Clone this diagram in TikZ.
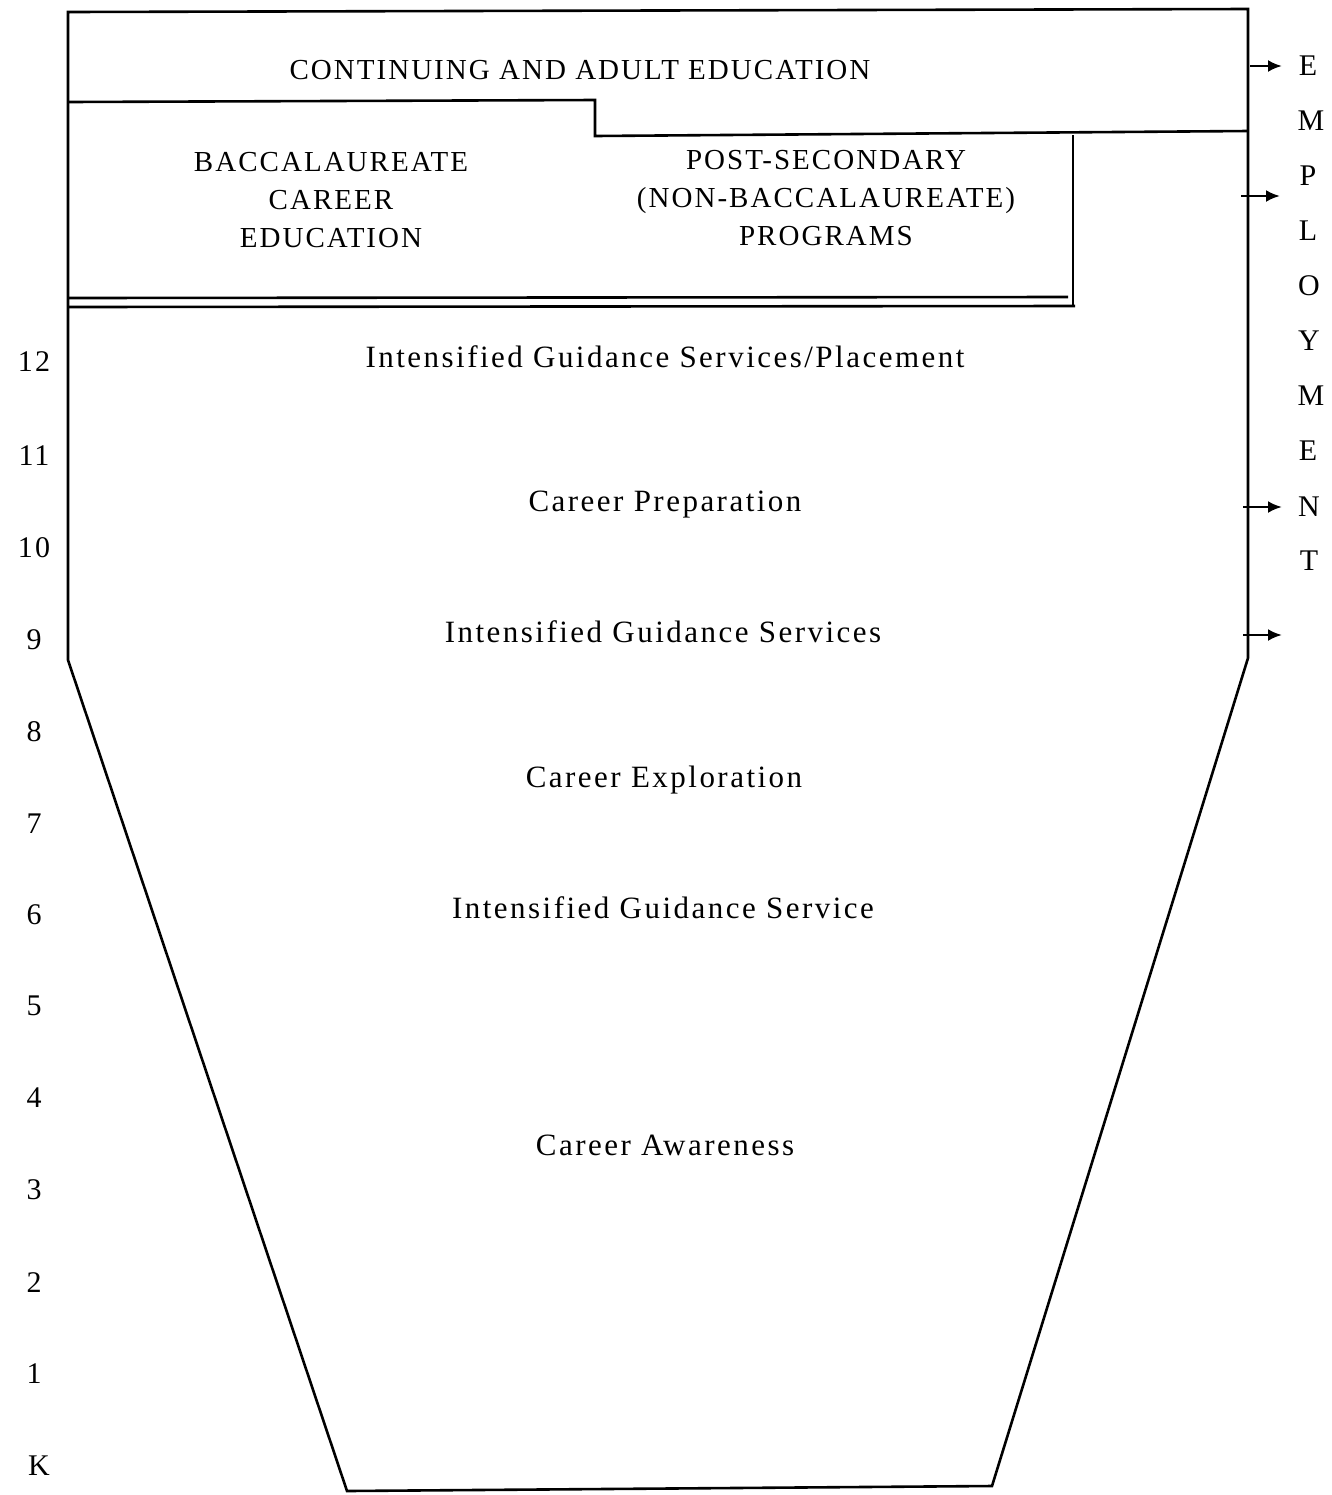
\documentclass[tikz,border=0pt]{standalone}
\usepackage{fontspec}
\setmainfont{Liberation Serif}[LetterSpace=7]
\newfontfamily\widefont{Liberation Serif}[LetterSpace=8]
\usetikzlibrary{arrows.meta}
\begin{document}
\begin{tikzpicture}[x=0.5pt,y=-0.5pt,
  frame/.style={line width=1.3pt,line join=miter},
  lbl/.style={font=\fontsize{14.5}{18}\selectfont,inner sep=0pt,align=center},
  stage/.style={font=\widefont\fontsize{15.5}{18}\selectfont,inner sep=0pt},
  grade/.style={font=\fontsize{15}{18}\selectfont,inner sep=0pt},
  empl/.style={font=\fontsize{15}{18}\selectfont,inner sep=0pt},
  outarrow/.style={line width=1.3pt,-{Latex[length=7pt,width=6pt]}}]
\useasboundingbox (0,0) rectangle (1332,1495);
% outer funnel
\draw[frame] (68,12) -- (1248,9) -- (1248,658) -- (992,1486) -- (347,1491) -- (68,660) -- cycle;
% continuing education lower boundary
\draw[frame] (68,102) -- (595,100) -- (595,136) -- (1248,131);
% post-secondary box right edge
\draw[frame] (1073,135) -- (1073,306);
% double line under the program boxes
\draw[frame] (68,298) -- (1068,297);
\draw[frame] (68,307) -- (1075,306);
% texts
\node[lbl] (cae) at (580,70) {CONTINUING AND ADULT EDUCATION};
\node[lbl] (bac) at (331,200) {BACCALAUREATE\\[1pt]CAREER\\[1pt]EDUCATION};
\node[lbl] (pst) at (826,198) {POST-SECONDARY\\[1pt](NON-BACCALAUREATE)\\[1pt]PROGRAMS};
\node[stage] (igsp) at (665,357) {Intensified Guidance Services/Placement};
\node[stage] (cp) at (665,505) {Career Preparation};
\node[stage] (igs) at (663,632) {Intensified Guidance Services};
\node[stage] (ce) at (664,780) {Career Exploration};
\node[stage] (igs2) at (663,908) {Intensified Guidance Service};
\node[stage] (ca) at (665,1145) {Career Awareness};
% grades
\node[grade] (g12) at (34,362) {12};
\node[grade] (g11) at (34,456) {11};
\node[grade] (g10) at (34,548) {10};
\node[grade] (g9) at (34,640) {9};
\node[grade] (g8) at (34,732) {8};
\node[grade] (g7) at (34,824) {7};
\node[grade] (g6) at (34,915) {6};
\node[grade] (g5) at (34,1006) {5};
\node[grade] (g4) at (34,1098) {4};
\node[grade] (g3) at (34,1190) {3};
\node[grade] (g2) at (34,1283) {2};
\node[grade] (g1) at (34,1374) {1};
\node[grade] (gk) at (39,1466) {K};
% EMPLOYMENT
\node[empl] (e1) at (1308,66) {E};
\node[empl] (e2) at (1311,121) {M};
\node[empl] (e3) at (1308,176) {P};
\node[empl] (e4) at (1308,231) {L};
\node[empl] (e5) at (1309,286) {O};
\node[empl] (e6) at (1309,341) {Y};
\node[empl] (e7) at (1311,396) {M};
\node[empl] (e8) at (1308,451) {E};
\node[empl] (e9) at (1309,507) {N};
\node[empl] (e10) at (1309,561) {T};
% arrows
\coordinate (a1s) at (1250,66); \coordinate (a1e) at (1282,66);
\coordinate (a2s) at (1241,196); \coordinate (a2e) at (1280,196);
\coordinate (a3s) at (1243,507); \coordinate (a3e) at (1282,507);
\coordinate (a4s) at (1243,635); \coordinate (a4e) at (1282,635);
\draw[outarrow] (a1s) -- (a1e);
\draw[outarrow] (a2s) -- (a2e);
\draw[outarrow] (a3s) -- (a3e);
\draw[outarrow] (a4s) -- (a4e);
\end{tikzpicture}
\end{document}
